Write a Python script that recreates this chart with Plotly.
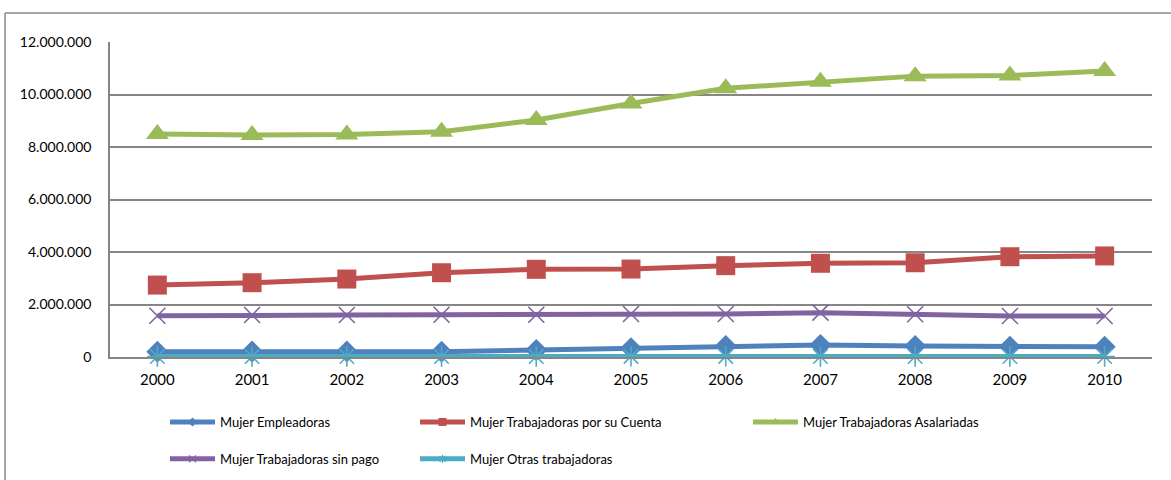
import plotly.graph_objects as go

years = ["2000", "2001", "2002", "2003", "2004", "2005", "2006", "2007", "2008", "2009", "2010"]

empleadoras = [200000, 205000, 210000, 200000, 265000, 330000, 420000, 460000, 420000, 390000, 390000]
por_su_cuenta = [2740000, 2830000, 2970000, 3210000, 3340000, 3350000, 3480000, 3570000, 3590000, 3820000, 3850000]
asalariadas = [8500000, 8460000, 8480000, 8580000, 9030000, 9660000, 10240000, 10490000, 10700000, 10720000, 10900000]
sin_pago = [1570000, 1600000, 1600000, 1610000, 1610000, 1640000, 1640000, 1690000, 1630000, 1560000, 1560000]
otras = [20000, 20000, 18000, 18000, 20000, 22000, 22000, 20000, 20000, 18000, 18000]

y_ticks = [0, 2000000, 4000000, 6000000, 8000000, 10000000, 12000000]

# name, values, colour, plot marker, legend marker, legend box
series = [
    ("Mujer Empleadoras", empleadoras, "#4F81BD",
     dict(symbol="diamond", size=17), dict(symbol="diamond", size=7), "legend"),
    ("Mujer Trabajadoras por su Cuenta", por_su_cuenta, "#C0504D",
     dict(symbol="square", size=19), dict(symbol="square", size=8), "legend2"),
    ("Mujer Trabajadoras Asalariadas", asalariadas, "#9BBB59",
     dict(symbol="triangle-up", size=20), dict(symbol="triangle-up", size=8), "legend3"),
    ("Mujer Trabajadoras sin pago", sin_pago, "#8064A2",
     dict(symbol="x-thin-open", size=16, line=dict(width=1.6)),
     dict(symbol="x-thin-open", size=7, line=dict(width=1.2)), "legend"),
    ("Mujer Otras trabajadoras", otras, "#4BACC6",
     dict(symbol="asterisk-open", size=17, line=dict(width=1.6)),
     dict(symbol="asterisk-open", size=7, line=dict(width=1.2)), "legend2"),
]


def with_color(marker, color):
    m = dict(color=color, **{k: v for k, v in marker.items() if k != "line"})
    if "line" in marker:
        m["line"] = dict(marker["line"], color=color)
    return m


fig = go.Figure()
for i, (name, vals, color, marker, leg_marker, leg) in enumerate(series):
    fig.add_trace(go.Scatter(
        x=years, y=vals, name=name, mode="lines+markers",
        line=dict(color=color, width=5),
        marker=with_color(marker, color),
        legendgroup=f"g{i}", showlegend=False,
        cliponaxis=False,
    ))
    # legend entry with a smaller marker
    fig.add_trace(go.Scatter(
        x=[None], y=[None], name=name, mode="lines+markers",
        line=dict(color=color, width=5),
        marker=with_color(leg_marker, color),
        legend=leg, legendgroup=f"g{i}", showlegend=True,
    ))

W, H = 1171, 480
L, R, T, B = 110, 1152, 42, 357


def px_x(p):
    return (p - L) / (R - L)


def px_y(p):
    return (B - p) / (B - T)


legend_common = dict(
    orientation="v", xanchor="left", yanchor="top",
    xref="container", yref="container",
    font=dict(family="Lato", size=13, color="#000000"),
    tracegroupgap=17, bgcolor="rgba(0,0,0,0)", itemwidth=45,
)
leg_top = 1 - 407 / H

fig.update_layout(
    width=W, height=H,
    margin=dict(l=L, r=W - R, t=T, b=H - B, pad=0, autoexpand=False),
    paper_bgcolor="white", plot_bgcolor="white",
    separators=",.",
    font=dict(family="Lato", size=13, color="#000000"),
    xaxis=dict(
        type="category", range=[-0.5, 10.5],
        showgrid=False, showline=True, linecolor="#868686", linewidth=1.5,
        ticks="outside", ticklen=8, tickcolor="rgba(0,0,0,0)",
        tickfont=dict(family="Lato", size=15, color="#000000"),
    ),
    yaxis=dict(
        range=[0, 12000000], tickvals=y_ticks, tickformat=",d",
        showgrid=True, gridcolor="#868686", gridwidth=1.5,
        showline=True, linecolor="#868686", linewidth=1.5,
        zeroline=False,
        ticks="outside", ticklen=14, tickcolor="rgba(0,0,0,0)",
        tickfont=dict(family="Lato", size=14, color="#000000"),
    ),
    legend=dict(x=165 / W, y=leg_top, **legend_common),
    legend2=dict(x=415 / W, y=leg_top, **legend_common),
    legend3=dict(x=748 / W, y=leg_top, **legend_common),
    shapes=[
        dict(type="line", xref="paper", yref="paper",
             x0=px_x(5), x1=px_x(5), y0=px_y(13), y1=px_y(490),
             line=dict(color="#888888", width=1.5)),
        dict(type="line", xref="paper", yref="paper",
             x0=px_x(5), x1=px_x(1180), y0=px_y(13), y1=px_y(13),
             line=dict(color="#888888", width=1.5)),
    ],
)

fig.write_html("out.html")
